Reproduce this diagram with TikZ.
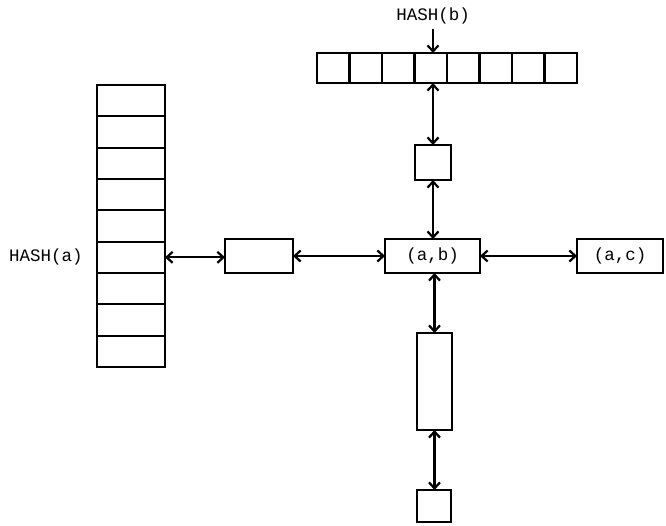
\documentclass[tikz,border=0pt]{standalone}
\usepackage{fontspec}
\setmonofont{Liberation Mono}
\usepackage{tikz}
\usetikzlibrary{arrows.meta,positioning}

\begin{document}
\begin{tikzpicture}[
  x=1pt, y=-1pt,
  line width=2.2pt,
  font=\ttfamily\fontsize{17.5}{20}\selectfont,
  cell/.style={draw, line width=2.2pt, inner sep=0pt, outer sep=0pt},
  hcell/.style={cell, minimum width=32.5pt, minimum height=30pt},
  vcell/.style={cell, minimum width=68pt, minimum height=31.33pt},
  rec/.style={cell, minimum height=34pt},
  link/.style={line width=2.2pt, {Straight Barb[length=6pt,width=11pt]}-{Straight Barb[length=6pt,width=11pt]}}
]
\useasboundingbox (0,0) rectangle (666,525);

% hash tables
\foreach \i in {1,...,8}
  \node[hcell] (hb\i) at ({317+32.5*(\i-0.5)},68) {};
\foreach \j in {1,...,9}
  \node[vcell] (ha\j) at (131,{85+31.33*(\j-0.5)}) {};
\node (hashb) at (433,16) {HASH(b)};
\node (hasha) at (46,257) {HASH(a)};

% records
\node[rec, minimum width=68pt] (left) at (259,256) {};
\node[rec, minimum width=95pt] (ab) at (432.5,256) {(a,b)};
\node[rec, minimum width=86pt] (ac) at (620,256) {(a,c)};
\node[cell, minimum width=36pt, minimum height=35pt] (up) at (433,162.5) {};
\node[cell, minimum width=35pt, minimum height=97pt] (down) at (434.5,381.5) {};
\node[cell, minimum width=34pt, minimum height=32pt] (bottom) at (434,506) {};

\draw[line width=2.2pt, -{Straight Barb[length=6pt,width=11pt]}] (hashb.south) -- (hashb.south |- hb4.north);
\draw[link] (ha6.east) -- (ha6.east -| left.west);
\draw[link] (left.east) -- (ab.west);
\draw[link] (ab.east) -- (ac.west);
\draw[link] (up.north |- hb4.south) -- (up.north);
\draw[link] (up.south) -- (up.south |- ab.north);
\draw[link] (down.north |- ab.south) -- (down.north);
\draw[link] (down.south) -- (bottom.north -| down.south);
\end{tikzpicture}
\end{document}
